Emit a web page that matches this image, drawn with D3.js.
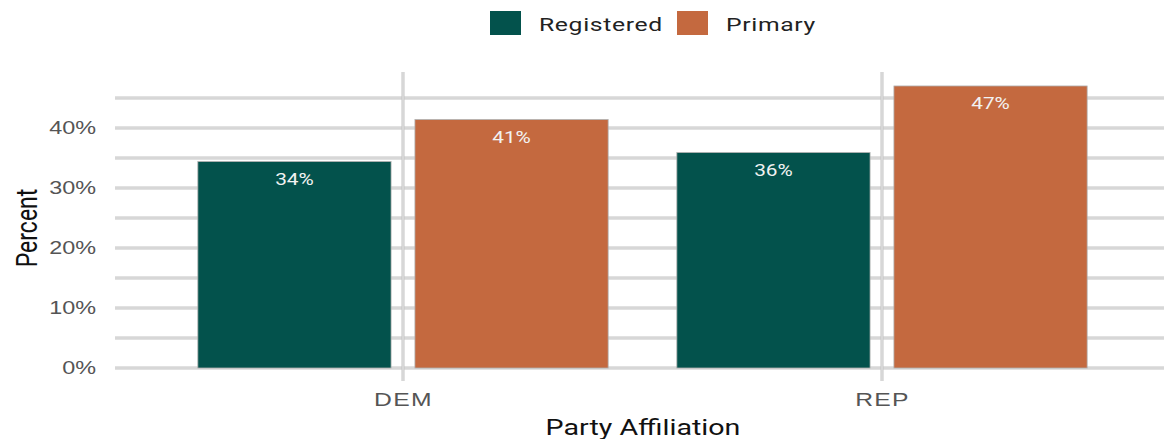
<!DOCTYPE html>
<html>
<head>
<meta charset="utf-8">
<script src="https://cdn.jsdelivr.net/npm/d3@7"></script>
<style>
  body { margin: 0; background: #fff; }
  svg { font-family: Roboto, "Liberation Sans", sans-serif; }
</style>
</head>
<body>
<div id="chart"></div>
<script>
// data
var parties = ["DEM", "REP"];
var groups = ["Registered", "Primary"];
var registered = [34.4, 35.9];
var primary = [41.4, 47.0];
var yTicks = [0, 10, 20, 30, 40];

var colors = {Registered: "#03524c", Primary: "#c4693f"};
var stretch = 1.3; // the reference text is drawn wide

var W = 1164, H = 439;
var margin = {top: 72, right: 0, bottom: 71, left: 115};
var width = W - margin.left - margin.right,
    height = H - margin.top - margin.bottom;

var svg = d3.select("#chart").append("svg")
    .attr("width", W).attr("height", H);

var g = svg.append("g")
    .attr("transform", "translate(" + margin.left + "," + margin.top + ")");

var x = d3.scalePoint().domain(parties).range([288, 767]);
var xSub = d3.scaleBand().domain(groups).range([-216, 216]).paddingInner(0.11).paddingOuter(0.05);
var y = d3.scaleLinear().domain([0, 49.33]).range([height, 0]);

// widen a text horizontally
function widen(sel) {
  sel.each(function() {
    var len = this.getComputedTextLength();
    d3.select(this).attr("textLength", len * stretch).attr("lengthAdjust", "spacingAndGlyphs");
  });
}

// grid lines drawn as double-ish lines
function gridLine(sel) {
  sel.append("line").attr("stroke", "#c4c4c4").attr("stroke-width", 3);
  sel.append("line").attr("stroke", "#eaeaea").attr("stroke-width", 1);
}
var hVals = d3.range(0, 46, 5);
var hg = g.append("g").selectAll("g").data(hVals).enter().append("g");
gridLine(hg);
hg.selectAll("line")
  .attr("x1", 0).attr("x2", width)
  .attr("y1", function() { return y(d3.select(this.parentNode).datum()); })
  .attr("y2", function() { return y(d3.select(this.parentNode).datum()); });

var vg = g.append("g").selectAll("g").data(parties).enter().append("g");
gridLine(vg);
vg.selectAll("line")
  .attr("x1", function() { return x(d3.select(this.parentNode).datum()); })
  .attr("x2", function() { return x(d3.select(this.parentNode).datum()); })
  .attr("y1", 0).attr("y2", height + 13);

// bars
var rows = [];
parties.forEach(function(p, i) {
  rows.push({party: p, group: "Registered", value: registered[i]});
  rows.push({party: p, group: "Primary", value: primary[i]});
});

g.append("g").selectAll("rect").data(rows).enter().append("rect")
  .attr("x", function(d) { return x(d.party) + xSub(d.group); })
  .attr("width", xSub.bandwidth())
  .attr("y", function(d) { return y(d.value); })
  .attr("height", function(d) { return y(0) - y(d.value); })
  .attr("fill", function(d) { return colors[d.group]; })
  .attr("stroke", "#b0b0b0")
  .attr("stroke-width", 0.8);

g.append("g").selectAll("text").data(rows).enter().append("text")
  .attr("x", function(d) { return x(d.party) + xSub(d.group) + xSub.bandwidth() / 2; })
  .attr("y", function(d) { return y(d.value) + 23.5; })
  .attr("text-anchor", "middle")
  .attr("fill", "#f2f2f2")
  .style("font-size", "16px")
  .text(function(d) { return Math.round(d.value) + "%"; })
  .call(widen);

// y axis labels
var yAxis = d3.axisLeft(y).tickValues(yTicks).tickSize(0).tickPadding(19)
  .tickFormat(function(d) { return d + "%"; });
var ya = g.append("g").call(yAxis);
ya.select(".domain").remove();
ya.selectAll("text").attr("fill", "#555").style("font-size", "18px")
  .attr("font-family", null).call(widen);

// x axis labels
var xAxis = d3.axisBottom(x).tickSize(0).tickPadding(25);
var xa = g.append("g").attr("transform", "translate(0," + height + ")").call(xAxis);
xa.select(".domain").remove();
xa.selectAll("text").attr("fill", "#555").style("font-size", "19px")
  .style("letter-spacing", "1px").attr("font-family", null).call(widen);

// axis titles
svg.append("text")
  .attr("transform", "translate(37,228) scale(" + stretch + ",1) rotate(-90)")
  .attr("text-anchor", "middle")
  .attr("fill", "#111")
  .style("font-size", "23px")
  .text("Percent");

svg.append("text")
  .attr("x", 643).attr("y", 435)
  .attr("text-anchor", "middle")
  .attr("fill", "#111")
  .style("font-size", "22px")
  .text("Party Affiliation")
  .call(widen);

// legend
var legendX = [490, 677];
var legend = svg.selectAll(".legend").data(groups).enter().append("g")
  .attr("class", "legend")
  .attr("transform", function(d, i) { return "translate(" + legendX[i] + ",11)"; });
legend.append("rect")
  .attr("width", 31).attr("height", 24)
  .attr("fill", function(d) { return colors[d]; });
legend.append("text")
  .attr("x", 49).attr("y", 20)
  .attr("fill", "#222")
  .style("font-size", "19px")
  .style("letter-spacing", "0.5px")
  .text(function(d) { return d; })
  .call(widen);
</script>
</body>
</html>
